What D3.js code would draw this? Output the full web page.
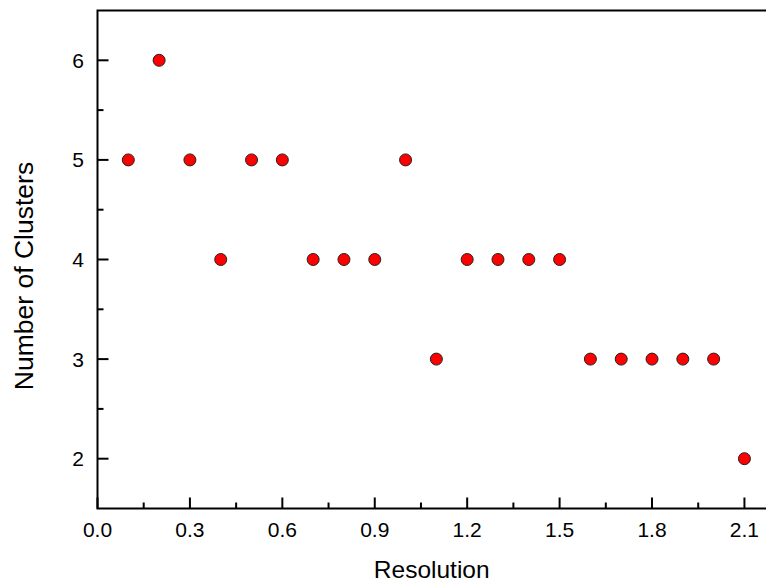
<!DOCTYPE html>
<html>
<head>
<meta charset="utf-8">
<script src="https://cdn.jsdelivr.net/npm/d3@7"></script>
<style>
  body { margin: 0; background: #fff; }
  svg { display: block; font-family: Arial, "Liberation Sans", sans-serif; }
</style>
</head>
<body>
<svg id="chart" width="766" height="586"></svg>
<script>
'use strict';
// data
var resolution = [0.1, 0.2, 0.3, 0.4, 0.5, 0.6, 0.7, 0.8, 0.9, 1.0, 1.1,
                  1.2, 1.3, 1.4, 1.5, 1.6, 1.7, 1.8, 1.9, 2.0, 2.1];
var clusters = [5, 6, 5, 4, 5, 5, 4, 4, 4, 5, 3,
                4, 4, 4, 4, 3, 3, 3, 3, 3, 2];
var xTicks = [0, 0.3, 0.6, 0.9, 1.2, 1.5, 1.8, 2.1];
var xMinor = [0.15, 0.45, 0.75, 1.05, 1.35, 1.65, 1.95];
var yTicks = [2, 3, 4, 5, 6];
var yMinor = [2.5, 3.5, 4.5, 5.5];

var svg = d3.select('#chart');
var plotL = 97.5, plotR = 766, plotT = 10.5, plotB = 508.5;

var x = d3.scaleLinear().domain([0, 2.17]).range([plotL, plotR]);
var y = d3.scaleLinear().domain([1.5, 6.5]).range([plotB, plotT]);

var axisG = svg.append('g');

// ticks (inside)
axisG.selectAll('.xt').data(xTicks).enter().append('line')
  .attr('x1', function (d) { return x(d); }).attr('x2', function (d) { return x(d); })
  .attr('y1', plotB).attr('y2', plotB - 11)
  .attr('stroke', '#000').attr('stroke-width', 2);
axisG.selectAll('.xm').data(xMinor).enter().append('line')
  .attr('x1', function (d) { return x(d); }).attr('x2', function (d) { return x(d); })
  .attr('y1', plotB).attr('y2', plotB - 6)
  .attr('stroke', '#000').attr('stroke-width', 2);
axisG.selectAll('.yt').data(yTicks).enter().append('line')
  .attr('y1', function (d) { return y(d); }).attr('y2', function (d) { return y(d); })
  .attr('x1', plotL).attr('x2', plotL + 11)
  .attr('stroke', '#000').attr('stroke-width', 2);
axisG.selectAll('.ym').data(yMinor).enter().append('line')
  .attr('y1', function (d) { return y(d); }).attr('y2', function (d) { return y(d); })
  .attr('x1', plotL).attr('x2', plotL + 6)
  .attr('stroke', '#000').attr('stroke-width', 2);

// frame: left, top, bottom (right edge is cut off)
axisG.append('path')
  .attr('d', 'M' + plotR + ',' + plotT + 'H' + plotL + 'V' + plotB + 'H' + plotR)
  .attr('fill', 'none').attr('stroke', '#000').attr('stroke-width', 2);

// tick labels
axisG.selectAll('.xl').data(xTicks).enter().append('text')
  .attr('x', function (d) { return x(d); }).attr('y', 537)
  .attr('text-anchor', 'middle').attr('font-size', 21)
  .text(function (d) { return d3.format('.1f')(d); });
axisG.selectAll('.yl').data(yTicks).enter().append('text')
  .attr('x', 84).attr('y', function (d) { return y(d) + 7.5; })
  .attr('text-anchor', 'end').attr('font-size', 21)
  .text(function (d) { return d; });

// axis titles
svg.append('text').attr('x', (plotL + plotR) / 2).attr('y', 578)
  .attr('text-anchor', 'middle').attr('font-size', 24.5).text('Resolution');
svg.append('text').attr('transform', 'translate(33,276) rotate(-90)')
  .attr('text-anchor', 'middle').attr('font-size', 26.5).text('Number of Clusters');

// points
svg.append('g').selectAll('circle').data(resolution).enter().append('circle')
  .attr('cx', function (d) { return x(d); })
  .attr('cy', function (d, i) { return y(clusters[i]); })
  .attr('r', 6)
  .attr('fill', '#ff0000').attr('stroke', '#222').attr('stroke-width', 1);
</script>
</body>
</html>
